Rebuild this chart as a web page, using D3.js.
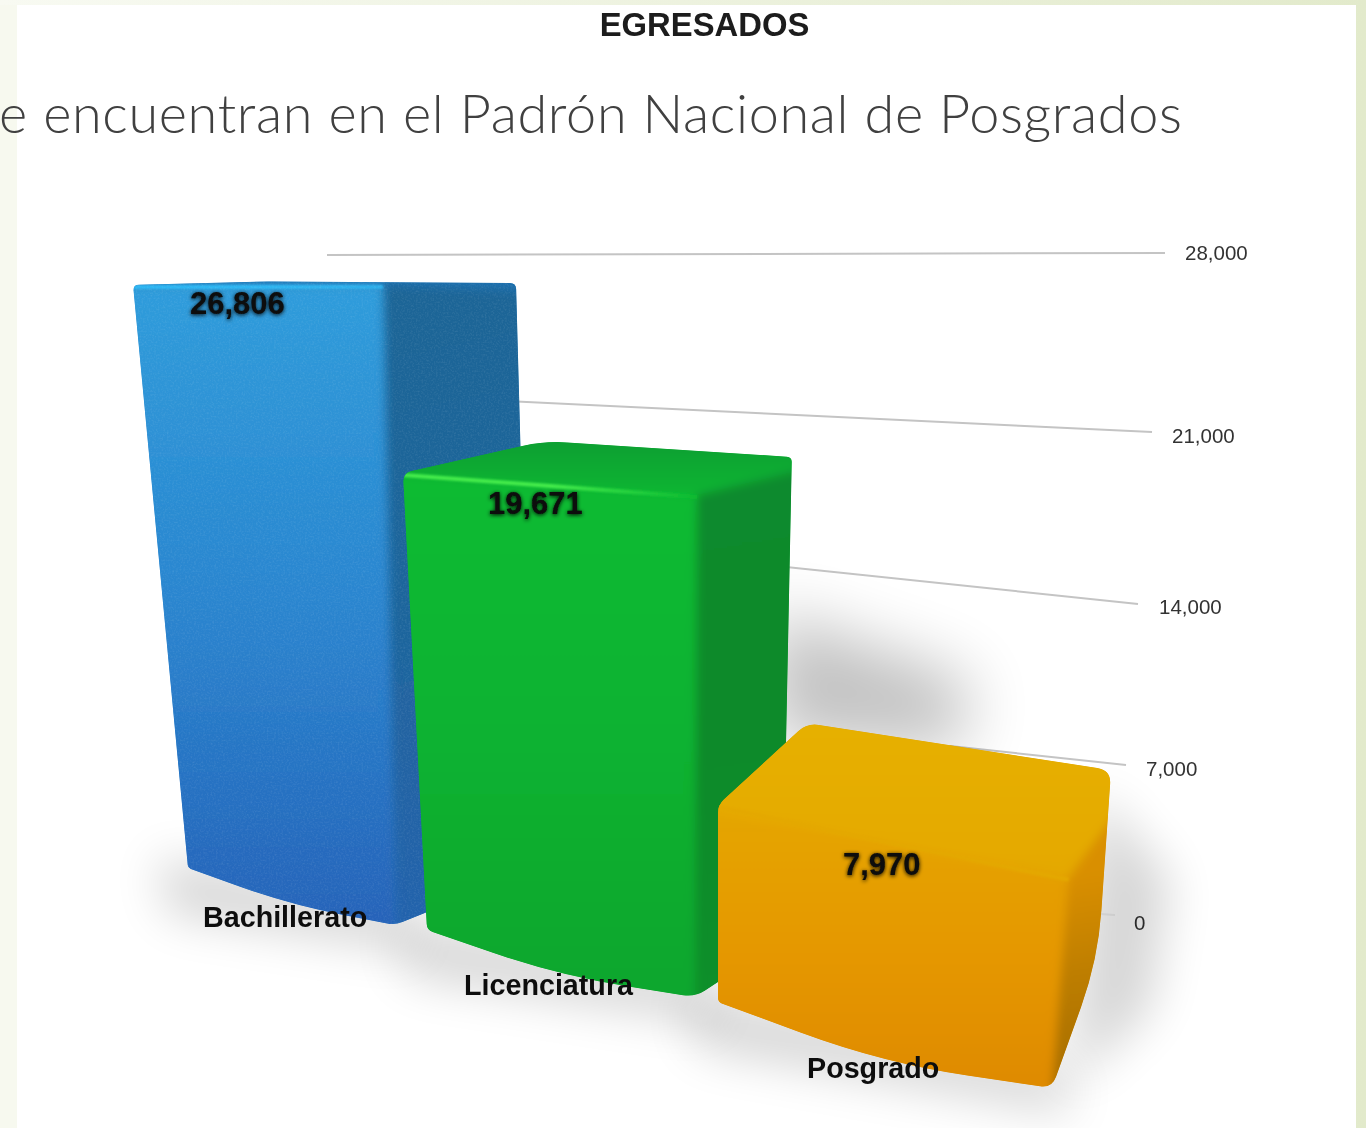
<!DOCTYPE html>
<html><head><meta charset="utf-8">
<script src="https://cdn.jsdelivr.net/npm/d3@7"></script>
<style>html,body{margin:0;padding:0;background:#fff;overflow:hidden}svg{display:block}</style>
</head><body><svg id="c" width="1366" height="1128"></svg>
<script>
// ---- data
const categories = ["Bachillerato", "Licenciatura", "Posgrado"];
const values = [26806, 19671, 7970];
const tickValues = [0, 7000, 14000, 21000, 28000];
const chartTitle = "EGRESADOS";
const slideText = "e encuentran en el Padrón Nacional de Posgrados";

// ---- perspective calibration (screen position of each vertical bar edge at 0 and at the axis maximum)
const axisMax = 28000;
const edgeFrames = [
  {FL:[[188,868],[130.6,259]],FR:[[395,925],[382.5,256.5]],BR:[[532,870],[515.3,257]],BL:[[300,830],[268.7,257]]},
  {FL:[[427,930],[392.8,279.5]],FR:[[695,997],[697.8,282.4]],BR:[[782,940],[796,252.5]],BL:[[540,885],[547,253]]},
  {FL:[[718,1002],[718,310]],FR:[[1052,1088],[1110,349]],BR:[[1098,960],[1144,293]],BL:[[805,905],[812,266]]}
];
const bow = [4, 6, 9];
const corner = [
  {flt:6,blt:2,brt:6,brb:10,frb:8,flb:3},
  {flt:9,blt:22,brt:5,brb:14,frb:12,flb:6},
  {flt:8,blt:12,brt:14,brb:50,frb:12,flb:4}
];
const palette = [
  {front:["#2f9cdb","#2a85cf","#2563b9"],side:["#1f6596","#1e659c","#2562ae"],top:["#1d6fae","#1d6fae"],hi:"#2fb8f4",hiEnd:"#2fb0ec"},
  {front:["#0abb32","#09b230","#0aa62d"],side:["#0c8a2d","#0a8a2a","#098f2a"],top:["#0a9f31","#0cb533"],hi:"#45ec4c",hiEnd:"#0abb32"},
  {front:["#e4a600","#e59800","#df8a00"],side:["#d98f00","#bb7c00","#a46c00"],top:["#e6b000","#e4a800"],hi:"#e4a800",hiEnd:"#e4a800"}
];
const grainAmount = [.15, 0, 0];
const valueLabelPos = [[190,314],[488,514],[843,875]];
const catLabelPos = [[203,927],[464,995],[807,1078]];

// axis scales: the back wall is in perspective, so each axis coordinate has its own scale
const gridRightX = d3.scaleLinear().domain(tickValues).range([1115,1126,1138,1152,1165]);
const gridRightY = d3.scaleLinear().domain(tickValues).range([915,765,604,432,253]);
const gridLeftX  = d3.scaleLinear().domain(tickValues).range([1100,950,700,400,327]);
const gridLeftY  = d3.scaleLinear().domain(tickValues).range([914,746,558,396,255]);
const tickLabelX = d3.scaleLinear().domain(tickValues).range([1134,1146,1159,1172,1185]);
const tickLabelY = d3.scaleLinear().domain(tickValues).range([930,776,614,443,260]);
const fmt = d3.format(",");

const edgeScales = edgeFrames.map(f => Object.fromEntries(Object.entries(f).map(([k,r]) =>
  [k, {x:d3.scaleLinear().domain([0,axisMax]).range([r[0][0],r[1][0]]),
       y:d3.scaleLinear().domain([0,axisMax]).range([r[0][1],r[1][1]])}])));

const svg = d3.select("#c");
const defs = svg.append("defs");

function rounded(pts, rs){
  const n = pts.length; let d = "";
  for(let i=0;i<n;i++){
    const p=pts[i], a=pts[(i+n-1)%n], b=pts[(i+1)%n], r=rs[i];
    const la=Math.hypot(a[0]-p[0],a[1]-p[1]), lb=Math.hypot(b[0]-p[0],b[1]-p[1]);
    const ra=Math.min(r,la/2), rb=Math.min(r,lb/2);
    const s=[p[0]+(a[0]-p[0])*ra/la,p[1]+(a[1]-p[1])*ra/la];
    const e=[p[0]+(b[0]-p[0])*rb/lb,p[1]+(b[1]-p[1])*rb/lb];
    d+=(i?"L":"M")+s[0]+","+s[1]+"Q"+p[0]+","+p[1]+" "+e[0]+","+e[1];
  }
  return d+"Z";
}
const poly = pts => "M"+pts.map(p=>p.join(",")).join("L")+"Z";
function blurF(id,s){defs.append("filter").attr("id",id).attr("filterUnits","userSpaceOnUse").attr("x",-100).attr("y",-100).attr("width",1566).attr("height",1328)
  .append("feGaussianBlur").attr("stdDeviation",s);}
blurF("b5",5); blurF("b1",1.2); blurF("s24",24); blurF("s32",32); blurF("t05",.45);
const grain = defs.append("filter").attr("id","grain").attr("x",0).attr("y",0).attr("width","100%").attr("height","100%");
grain.append("feTurbulence").attr("type","fractalNoise").attr("baseFrequency",.55).attr("numOctaves",2).attr("seed",3);
grain.append("feColorMatrix").attr("values","0 0 0 0 1  0 0 0 0 1  0 0 0 0 1  1.3 0 0 0 -0.55");
const ts = defs.append("filter").attr("id","txtShadow").attr("x","-20%").attr("y","-30%").attr("width","140%").attr("height","170%");
ts.append("feGaussianBlur").attr("in","SourceAlpha").attr("stdDeviation",2).attr("result","a");
ts.append("feOffset").attr("in","a").attr("dy",1).attr("result","o");
ts.append("feGaussianBlur").attr("in","SourceGraphic").attr("stdDeviation",.5).attr("result","t");
const m = ts.append("feMerge"); m.append("feMergeNode").attr("in","o"); m.append("feMergeNode").attr("in","t");

function grad(id,stops,x1,y1,x2,y2){
  const g=defs.append("linearGradient").attr("id",id).attr("gradientUnits","userSpaceOnUse")
    .attr("x1",x1).attr("y1",y1).attr("x2",x2).attr("y2",y2);
  stops.forEach((c,i)=>g.append("stop").attr("offset",i/(stops.length-1)).attr("stop-color",c));
}

// slide background
const bgG = defs.append("linearGradient").attr("id","bgTop").attr("x1",0).attr("x2",1).attr("y1",0).attr("y2",0);
bgG.append("stop").attr("offset",0).attr("stop-color","#f8faf2");
bgG.append("stop").attr("offset",1).attr("stop-color","#e2eacb");
svg.append("rect").attr("width",1366).attr("height",1128).attr("fill","url(#bgTop)");
svg.append("rect").attr("x",0).attr("y",5).attr("width",17).attr("height",1123).attr("fill","#f7f9ef");
svg.append("rect").attr("x",17).attr("y",5).attr("width",1339).attr("height",1123).attr("fill","#fff");

// titles
svg.append("text").attr("x",704.5).attr("y",36).attr("text-anchor","middle")
  .attr("font-family","Liberation Sans").attr("font-weight",700).attr("font-size",32.8).attr("fill","#1a1a1a").attr("filter","url(#t05)").text(chartTitle);
svg.append("text").attr("x",-1).attr("y",132.5).attr("font-family","Lato").attr("font-weight",300).attr("font-size",54)
  .attr("fill","#404040").attr("textLength",1183).attr("lengthAdjust","spacing").text(slideText);

// gridlines and axis labels
svg.append("g").attr("filter","url(#t05)").selectAll("line").data(tickValues).join("line")
  .attr("x1",gridLeftX).attr("y1",gridLeftY).attr("x2",gridRightX).attr("y2",gridRightY)
  .attr("stroke",d=>d?"#c4c4c4":"#f0f0f0").attr("stroke-width",2);
svg.append("g").attr("filter","url(#t05)").selectAll("text").data(tickValues).join("text")
  .attr("x",tickLabelX).attr("y",tickLabelY).attr("font-family","Liberation Sans").attr("font-size",20.5)
  .attr("fill","#333").text(fmt);

// shadows
const shadows = svg.append("g");
shadows.append("path").attr("d",poly([[770,610],[970,680],[960,750],[770,740]])).attr("fill","#000").attr("opacity",.24).attr("filter","url(#s32)");
shadows.append("path").attr("d",poly([[1095,790],[1170,880],[1150,1010],[1070,1085]])).attr("fill","#000").attr("opacity",.16).attr("filter","url(#s24)");

const pt = (i,k,v) => [edgeScales[i][k].x(v), edgeScales[i][k].y(v)];

// floor shadows first, so that no bar is covered by a later bar's shadow
categories.forEach((c,i)=>{
  const flb=pt(i,"FL",0), frb=pt(i,"FR",0);
  svg.append("path").attr("d",poly([[flb[0]-30,flb[1]-10],[frb[0]+10,frb[1]-20],[frb[0]+20,frb[1]+25],[flb[0]-20,flb[1]+45]]))
    .attr("fill","#000").attr("opacity",.17).attr("filter","url(#s24)");
});

categories.forEach((c,i)=>{
  const v=values[i], r=corner[i], col=palette[i];
  const flt=pt(i,"FL",v), frt=pt(i,"FR",v), brt=pt(i,"BR",v), blt=pt(i,"BL",v);
  const flb=pt(i,"FL",0), frb=pt(i,"FR",0), brb=pt(i,"BR",0);
  const mid=[(flb[0]+frb[0])/2-2,(flb[1]+frb[1])/2+bow[i]*2];

  const outline = rounded([flt,blt,brt,brb,frb,mid,flb],[r.flt,r.blt,r.brt,r.brb,r.frb,400,r.flb]);
  defs.append("clipPath").attr("id","clip"+i).append("path").attr("d",outline);
  grad("front"+i,col.front,0,flt[1],0,frb[1]);
  grad("side"+i,col.side,frt[0],frt[1],brb[0],frb[1]);
  grad("top"+i,col.top,0,Math.min(blt[1],brt[1]),0,frt[1]);
  grad("hi"+i,[col.hi,col.hi,col.hiEnd],flt[0],flt[1],frt[0],frt[1]);

  const g=svg.append("g").attr("clip-path",`url(#clip${i})`);
  g.append("path").attr("d",outline).attr("fill",col.front[1]);
  const faces=g.append("g").attr("filter","url(#b5)");
  faces.append("path").attr("d",poly([flt,frt,[frb[0],frb[1]+30],[flb[0]-30,flb[1]+20],[flt[0]-30,flt[1]]])).attr("fill",`url(#front${i})`);
  faces.append("path").attr("d",poly([frt,[brt[0]+30,brt[1]-5],[brb[0]+30,brb[1]],[frb[0]+20,frb[1]+30],frb])).attr("fill",`url(#side${i})`);
  faces.append("path").attr("d",poly([[flt[0]-30,flt[1]],[blt[0],blt[1]-30],[brt[0]+30,brt[1]-30],[brt[0]+30,brt[1]+8],frt])).attr("fill",`url(#top${i})`);
  g.append("path").attr("d",`M${flt}L${frt}`).attr("stroke",`url(#hi${i})`).attr("stroke-width",4).attr("fill","none").attr("filter","url(#b1)").attr("transform","translate(0,2)");
  if(grainAmount[i]>0) g.append("rect").attr("x",flt[0]-30).attr("y",Math.min(flt[1],blt[1])-10).attr("width",brt[0]-flt[0]+60).attr("height",frb[1]-blt[1]+40)
    .attr("filter","url(#grain)").attr("opacity",grainAmount[i]);
});

// value labels and category labels
svg.append("g").selectAll("text").data(values).join("text")
  .attr("x",(d,i)=>valueLabelPos[i][0]).attr("y",(d,i)=>valueLabelPos[i][1])
  .attr("font-family","Liberation Sans").attr("font-weight",700).attr("font-size",31).attr("fill","#0a0a0a")
  .attr("filter","url(#txtShadow)").text(fmt);
svg.append("g").attr("filter","url(#t05)").selectAll("text").data(categories).join("text")
  .attr("x",(d,i)=>catLabelPos[i][0]).attr("y",(d,i)=>catLabelPos[i][1])
  .attr("font-family","Liberation Sans").attr("font-weight",700).attr("font-size",28.7).attr("fill","#111")
  .text(d=>d);
</script></body></html>
